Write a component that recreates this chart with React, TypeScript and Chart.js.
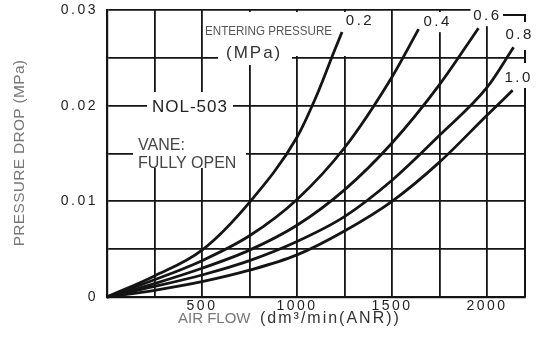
import React, { useEffect, useRef } from "react";
import { Chart, registerables } from "chart.js";
Chart.register(...registerables);

// Entering pressure (MPa) for each curve
const pressureLabels = ["0.2", "0.4", "0.6", "0.8", "1.0"];

// Air flow (dm3/min ANR) and pressure drop (MPa)
const flow02 = [0, 250, 500, 750, 1000, 1100, 1200, 1237];
const drop02 = [0, 0.0022, 0.0049, 0.0099, 0.0167, 0.0209, 0.0259, 0.0277];

const flow04 = [0, 250, 500, 750, 1000, 1250, 1500, 1640];
const drop04 = [0, 0.0018, 0.0038, 0.0064, 0.0102, 0.0156, 0.023, 0.028];

const flow06 = [0, 250, 500, 750, 1000, 1250, 1500, 1750, 1955];
const drop06 = [0, 0.0014, 0.003, 0.0049, 0.0075, 0.0112, 0.0161, 0.0222, 0.0281];

const flow08 = [0, 250, 500, 750, 1000, 1250, 1500, 1750, 2000, 2140];
const drop08 = [0, 0.0011, 0.0023, 0.0038, 0.0058, 0.0084, 0.0122, 0.0169, 0.0219, 0.0261];

const flow10 = [0, 250, 500, 750, 1000, 1250, 1500, 1750, 2000, 2135];
const drop10 = [0, 0.0007, 0.0016, 0.0028, 0.0044, 0.0069, 0.01, 0.0141, 0.019, 0.0216];

// grid / tick values
const xGrid = [0, 250, 500, 750, 1000, 1250, 1500, 1750, 2000];
const xTickLabels = [500, 1000, 1500, 2000];
const yGrid = [0, 0.005, 0.01, 0.015, 0.02, 0.025, 0.03];
const yTickLabels = [0, 0.01, 0.02, 0.03];

const INK = "#141414";
const SANS = "'Liberation Sans', Arial, sans-serif";

export default function App() {
  const ref = useRef<HTMLCanvasElement>(null);

  useEffect(() => {
    const canvas = ref.current!;
    const series = [
      [flow02, drop02],
      [flow04, drop04],
      [flow06, drop06],
      [flow08, drop08],
      [flow10, drop10],
    ];
    const datasets = series.map(([f, d], i) => ({
      label: pressureLabels[i],
      data: f.map((x, j) => ({ x, y: d[j] })),
      borderColor: INK,
      borderWidth: 2.8,
      pointRadius: 0,
      fill: false,
      cubicInterpolationMode: "monotone" as const,
      clip: false as any,
    }));

    // label offsets from the end of each curve (pixels)
    const labelOffsets = [
      [18, -11],
      [19, -7],
      [9, -12],
      [6, -12],
      [6, -13],
    ];
    const labelPos = (chart: any, ds: any, i: number) => {
      const last = ds.data[ds.data.length - 1];
      return [
        chart.scales.x.getPixelForValue(last.x) + labelOffsets[i][0],
        chart.scales.y.getPixelForValue(last.y) + labelOffsets[i][1],
      ];
    };

    const decor = {
      id: "decor",
      beforeDraw(chart: any) {
        chart.ctx.letterSpacing = "2.5px";
      },
      beforeDatasetsDraw(chart: any) {
        const { ctx, chartArea: a } = chart;
        ctx.save();
        ctx.letterSpacing = "0px";
        ctx.strokeStyle = INK;
        ctx.lineWidth = 2;
        ctx.beginPath();
        ctx.moveTo(a.right, a.top - 1);
        ctx.lineTo(a.right, a.bottom);
        ctx.stroke();

        ctx.fillStyle = "#ffffff";
        const boxes = [
          [203, 12, 348, 56],
          [218, 44, 292, 65],
          [147, 92, 233, 121],
          [133, 121, 246, 168],
          [500, 3, 532, 14],
          [504, 21, 536, 50],
          [500, 63, 536, 88],
        ];
        boxes.forEach(([x1, y1, x2, y2]) => ctx.fillRect(x1, y1, x2 - x1, y2 - y1));
        chart.data.datasets.forEach((ds: any, i: number) => {
          if (i > 2) return;
          const [px, py] = labelPos(chart, ds, i);
          const top = i === 2 ? 3 : 12;
          ctx.fillRect(px - 17, top, 34, py + 10 - top);
        });
        // bracket
        ctx.strokeStyle = INK;
        ctx.lineWidth = 2;
        ctx.beginPath();
        ctx.moveTo(503, 15);
        ctx.lineTo(a.right, 15);
        ctx.lineTo(a.right, 22);
        ctx.stroke();
        ctx.restore();
      },
      afterDatasetsDraw(chart: any) {
        const { ctx } = chart;
        ctx.save();
        // curve labels
        ctx.fillStyle = "#222";
        ctx.font = `15px ${SANS}`;
        ctx.letterSpacing = "2.5px";
        ctx.textAlign = "center";
        ctx.textBaseline = "middle";
        chart.data.datasets.forEach((ds: any, i: number) => {
          const [px, py] = labelPos(chart, ds, i);
          ctx.fillText(ds.label, px, py);
        });

        ctx.textAlign = "left";
        ctx.textBaseline = "alphabetic";
        ctx.save();
        ctx.fillStyle = "#555";
        ctx.letterSpacing = "0px";
        ctx.font = `13.5px ${SANS}`;
        ctx.translate(205, 35);
        ctx.scale(0.86, 1);
        ctx.fillText("ENTERING PRESSURE", 0, 0);
        ctx.restore();

        ctx.fillStyle = "#333";
        ctx.font = `17px ${SANS}`;
        ctx.letterSpacing = "2px";
        ctx.fillText("(MPa)", 226, 58);

        ctx.fillStyle = "#222";
        ctx.font = `17px ${SANS}`;
        ctx.letterSpacing = "1px";
        ctx.fillText("NOL-503", 152, 112);

        ctx.fillStyle = "#444";
        ctx.font = `16px ${SANS}`;
        ctx.letterSpacing = "0px";
        ctx.fillText("VANE:", 138, 150);
        ctx.fillText("FULLY OPEN", 138, 168);

        // axis titles
        ctx.fillStyle = "#777";
        ctx.font = `15px ${SANS}`;
        ctx.letterSpacing = "0px";
        ctx.fillText("AIR FLOW", 178, 323);
        ctx.fillStyle = "#333";
        ctx.font = `16px ${SANS}`;
        ctx.letterSpacing = "2px";
        ctx.fillText("(dm³/min(ANR))", 260, 323);

        ctx.save();
        ctx.translate(20, 153);
        ctx.rotate(-Math.PI / 2);
        ctx.textAlign = "center";
        ctx.textBaseline = "middle";
        ctx.fillStyle = "#777";
        ctx.font = `15.5px ${SANS}`;
        ctx.letterSpacing = "0.3px";
        ctx.fillText("PRESSURE DROP (MPa)", 0, 0);
        ctx.restore();
        ctx.restore();
      },
    };

    const chart = new Chart(canvas, {
      type: "line",
      data: { datasets },
      options: {
        animation: false,
        responsive: false,
        devicePixelRatio: 1,
        events: [],
        layout: { padding: { left: 0, top: 10, right: 11, bottom: 0 } },
        plugins: { legend: { display: false }, tooltip: { enabled: false } },
        scales: {
          x: {
            type: "linear",
            min: 0,
            max: 2200,
            afterBuildTicks: (s: any) => {
              s.ticks = xGrid.map((value) => ({ value }));
            },
            afterFit: (s: any) => {
              s.height = 46;
              s.paddingLeft = 0;
              s.paddingRight = 0;
            },
            border: { display: true, color: INK, width: 2.2 },
            grid: { color: INK, lineWidth: 1.8, drawTicks: false },
            ticks: {
              autoSkip: false,
              maxRotation: 0,
              padding: 1,
              color: "#1e1e1e",
              font: { family: SANS, size: 14 },
              callback: (v: any) => (xTickLabels.includes(Number(v)) ? String(v) : ""),
            },
          },
          y: {
            type: "linear",
            min: 0,
            max: 0.03,
            afterBuildTicks: (s: any) => {
              s.ticks = yGrid.map((value) => ({ value }));
            },
            afterFit: (s: any) => {
              s.width = 107;
              s.paddingTop = 0;
              s.paddingBottom = 0;
            },
            border: { display: true, color: INK, width: 2.2 },
            grid: { color: INK, lineWidth: 1.8, drawTicks: false },
            ticks: {
              autoSkip: false,
              padding: 9,
              color: "#1e1e1e",
              font: { family: SANS, size: 14 },
              callback: (v: any) => {
                const n = Number(v);
                const hit = yTickLabels.find((t) => Math.abs(t - n) < 1e-9);
                if (hit === undefined) return "";
                return hit === 0 ? "0" : hit.toFixed(2);
              },
            },
          },
        },
      },
      plugins: [decor],
    } as any);

    return () => chart.destroy();
  }, []);

  return (
    <canvas
      ref={ref}
      width={536}
      height={343}
      style={{ position: "absolute", left: 0, top: 0, width: 536, height: 343, background: "#fff" }}
    />
  );
}
